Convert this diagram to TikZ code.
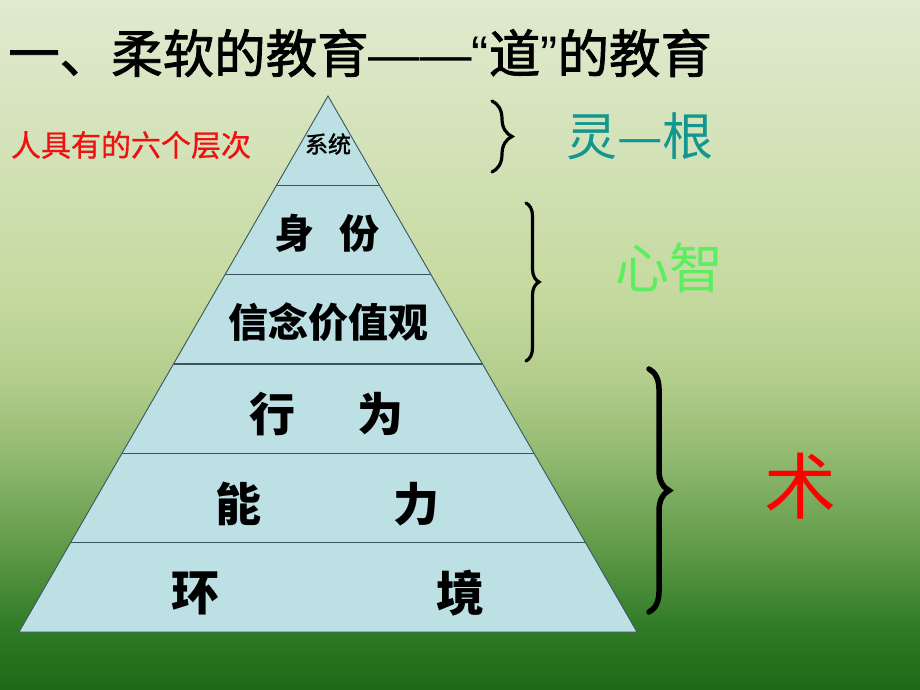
\documentclass[tikz,border=0pt]{standalone}
\usepackage{fontspec}
\setmainfont{Liberation Sans}
\newfontfamily\cjk{Noto Sans CJK SC}
\newfontfamily\cjkm[FakeBold=1.6]{Noto Sans CJK SC}
\newfontfamily\cjkl[FakeBold=0.7]{Noto Sans CJK SC}
\usetikzlibrary{calc,decorations.pathreplacing}
\definecolor{bgA}{HTML}{1C6A18}
\definecolor{bgB}{HTML}{2E7A25}
\definecolor{bgC}{HTML}{5F9A48}
\definecolor{bgD}{HTML}{94BB72}
\definecolor{bgE}{HTML}{B3CD8C}
\definecolor{bgF}{HTML}{C4D99E}
\definecolor{bgG}{HTML}{D3E2B8}
\definecolor{bgH}{HTML}{E0EACF}
\definecolor{pyrfill}{HTML}{BCE0E4}
\definecolor{pyrline}{HTML}{3A5560}
\definecolor{tealtxt}{HTML}{13968F}
\definecolor{greentxt}{HTML}{5EEC60}
\definecolor{redtxt}{HTML}{F01010}
% the path maps onto 25bp..75bp of the shading
\pgfdeclareverticalshading{bgshade}{100bp}{color(0bp)=(bgA); color(25bp)=(bgA); color(29.35bp)=(bgB); color(35.15bp)=(bgC); color(42.4bp)=(bgD); color(47.45bp)=(bgE); color(53.25bp)=(bgF); color(64.15bp)=(bgG); color(75bp)=(bgH); color(100bp)=(bgH)}
\tikzset{
  pyr/.style={draw=pyrline, fill=pyrfill, line width=0.9pt, line join=miter},
  layerline/.style={draw=pyrline, line width=1.4pt},
  lbl/.style={inner sep=0pt, anchor=center},
  bracestyle/.style={draw=black, line cap=round, decorate},
}
\begin{document}
\begin{tikzpicture}[x=1pt,y=-1pt]
\shade[shading=bgshade] (0,0) rectangle (920,690);
\useasboundingbox (0,0) rectangle (920,690);
% title
\node[inner sep=0pt, anchor=west, font=\fontsize{51.5}{56}\selectfont] (title) at (8,53)
  {{\cjkm 一、柔软的教育}——“{\cjkm 道}”{\cjkm 的教育}};
% left red caption
\node[inner sep=0pt, text=redtxt, font=\cjkl\fontsize{30}{34}\selectfont] (cap) at (131,145) {人具有的六个层次};
% pyramid
\coordinate (apex) at (328,96);
\coordinate (bl) at (19,632);
\coordinate (br) at (637,632);
\draw[pyr] (apex) -- (bl) -- (br) -- cycle;
\foreach \k in {1,...,5}
  \draw[layerline] ($(apex)!\k/6!(bl)$) -- ($(apex)!\k/6!(br)$);
% layer labels
\node[lbl, font=\cjkm\fontsize{23}{26}\selectfont] (xitong) at (328,144) {系统};
\node[lbl, font=\cjk\bfseries\fontsize{40}{44}\selectfont] (shen) at (294,233) {身};
\node[lbl, font=\cjk\bfseries\fontsize{40}{44}\selectfont] (fen) at (359,233) {份};
\node[lbl, font=\cjk\bfseries\fontsize{40}{44}\selectfont] (xinnian) at (328,322) {信念价值观};
\node[lbl, font=\cjk\bfseries\fontsize{46}{50}\selectfont] (xing) at (272,414) {行};
\node[lbl, font=\cjk\bfseries\fontsize{46}{50}\selectfont] (wei) at (380,414) {为};
\node[lbl, font=\cjk\bfseries\fontsize{46}{50}\selectfont] (neng) at (238,504) {能};
\node[lbl, font=\cjk\bfseries\fontsize{46}{50}\selectfont] (li) at (416,504) {力};
\node[lbl, font=\cjk\bfseries\fontsize{48}{52}\selectfont] (huan) at (195,593) {环};
\node[lbl, font=\cjk\bfseries\fontsize{48}{52}\selectfont] (jing) at (460,593) {境};
% braces
\coordinate (b1t) at (492,101); \coordinate (b1b) at (492,172);
\draw[bracestyle, line width=3.2pt, decoration={brace, amplitude=20pt}] (b1t) -- (b1b);
\coordinate (b2t) at (526,203); \coordinate (b2b) at (526,361);
\draw[bracestyle, line width=3.2pt, decoration={brace, amplitude=13pt}] (b2t) -- (b2b);
\coordinate (b3t) at (649,369); \coordinate (b3b) at (649,612);
\draw[bracestyle, line width=5.5pt, decoration={brace, amplitude=20pt}] (b3t) -- (b3b);
% right labels
\node[inner sep=0pt, text=tealtxt, font=\cjk\fontsize{51}{56}\selectfont] (linggen) at (640,136) {灵—根};
\node[inner sep=0pt, text=greentxt, font=\cjk\fontsize{54}{58}\selectfont] (xinzhi) at (669,268) {心智};
\node[inner sep=0pt, text=red, font=\cjk\fontsize{72}{76}\selectfont] (shu) at (800,486) {术};
\end{tikzpicture}
\end{document}
